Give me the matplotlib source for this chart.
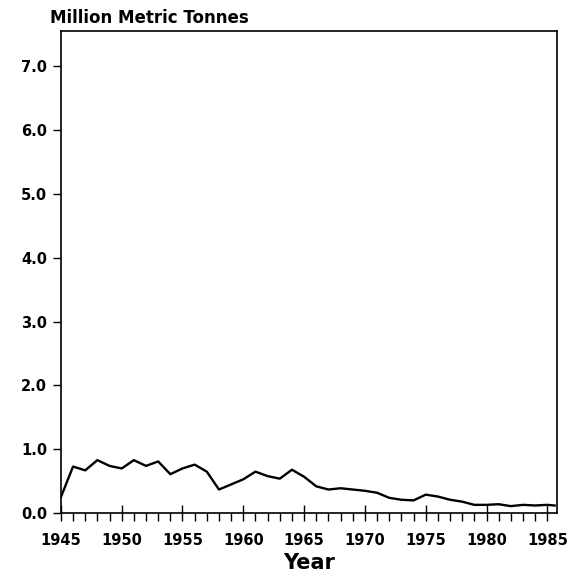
import numpy as np
import matplotlib as mpl
import matplotlib.pyplot as plt
import matplotlib.ticker as ticker

# data
years = list(range(1945, 1986))
tonnes = [0.25, 0.73, 0.67, 0.83, 0.74, 0.70, 0.83, 0.74, 0.81, 0.61,
          0.70, 0.76, 0.65, 0.37, 0.45, 0.53, 0.65, 0.58, 0.54, 0.68,
          0.57, 0.42, 0.37, 0.39, 0.37, 0.35, 0.32, 0.24, 0.21, 0.20,
          0.29, 0.26, 0.21, 0.18, 0.13, 0.13, 0.14, 0.11, 0.13, 0.12,
          0.13]
end_year = 1985.6
end_value = 0.12
y_ticks = [0.0, 1.0, 2.0, 3.0, 4.0, 5.0, 6.0, 7.0]
x_ticks = list(range(1945, 1986, 5))

mpl.rcParams.update({
    "font.family": "sans-serif",
    "font.sans-serif": ["DejaVu Sans"],
    "font.weight": "bold",
})

fig = plt.figure(figsize=(5.69, 5.74), dpi=100)
ax = fig.add_axes([0.107, 0.106, 0.872, 0.84])

ax.plot(years + [end_year], tonnes + [end_value], color="black", lw=1.7)

ax.set_xlim(1945, 1985.8)
ax.set_ylim(0, 7.55)

ax.set_yticks(y_ticks)
ax.yaxis.set_major_formatter(ticker.FormatStrFormatter("%.1f"))
ax.set_xticks(x_ticks)
ax.xaxis.set_minor_locator(ticker.MultipleLocator(1))

ax.tick_params(axis="y", direction="out", length=6, width=1, labelsize=10.5, pad=4)
ax.tick_params(axis="x", which="major", direction="inout", length=12, width=1,
               labelsize=10.5, pad=8)
ax.tick_params(axis="x", which="minor", direction="out", length=6, width=1)

for lbl in ax.get_xticklabels() + ax.get_yticklabels():
    lbl.set_fontweight("bold")

for s in ax.spines.values():
    s.set_linewidth(1.2)

ax.set_xlabel("Year", fontsize=15, fontweight="bold", labelpad=4)
fig.text(0.088, 0.969, "Million Metric Tonnes", fontsize=12, fontweight="bold",
         ha="left", va="center")

fig.savefig("out.png", dpi=100)
